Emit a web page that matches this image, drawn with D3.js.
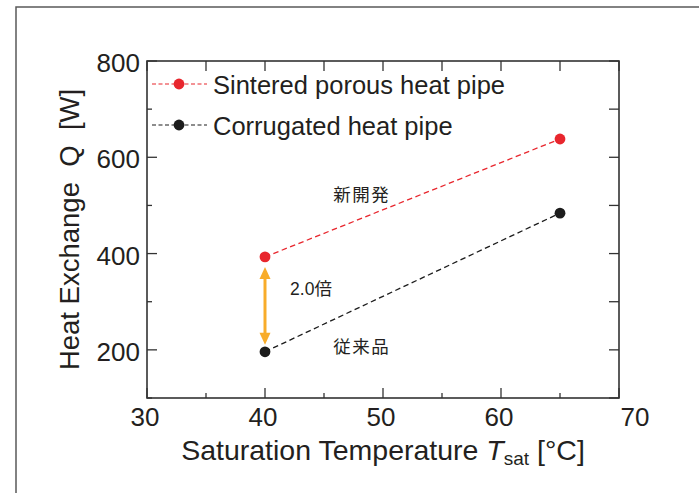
<!DOCTYPE html>
<html>
<head>
  <meta charset="utf-8">
  <title>Heat exchange vs saturation temperature</title>
  <script src="https://cdn.jsdelivr.net/npm/d3@7"></script>
  <style>
    body { margin: 0; background: #fff; }
    svg text { font-family: "Liberation Sans", Arial, sans-serif; fill: #231f20; }
    .cjk { font-family: "Liberation Sans", "Noto Sans CJK JP", sans-serif; }
  </style>
</head>
<body>
<script>
  // values
  var temps = [40, 65];
  var sintered = [393, 638];
  var corrugated = [196, 484];
  var seriesNames = ["Sintered porous heat pipe", "Corrugated heat pipe"];
  var seriesColors = ["#e8262d", "#1c1c1c"];
  var xTicks = [30, 40, 50, 60, 70];
  var yTicks = [200, 400, 600, 800];
  var notes = [
    {text: "新開発", x: 48.2, y: 509},
    {text: "2.0倍", x: 43.9, y: 314},
    {text: "従来品", x: 48.2, y: 194}
  ];

  var W = 699, H = 493;
  var pL = 147, pT = 61, pR = 619, pB = 398;

  var svg = d3.select("body").append("svg")
      .attr("width", W).attr("height", H);

  // outer frame (top and left edges visible)
  svg.append("path")
      .attr("d", "M16," + H + "V7H" + W)
      .attr("fill", "none").attr("stroke", "#5a5a5a").attr("stroke-width", 1.5);

  var x = d3.scaleLinear().domain([30, 70]).range([pL, pR]);
  var y = d3.scaleLinear().domain([100, 800]).range([pB, pT]);

  var minorX = d3.range(30, 71, 5), minorY = d3.range(100, 801, 100);

  // ticks, all pointing inward
  var tk = svg.append("g").attr("stroke", "#333").attr("stroke-width", 1.3);
  minorX.forEach(function (v) {
    var major = xTicks.indexOf(v) >= 0;
    tk.append("line").attr("x1", x(v)).attr("x2", x(v))
      .attr("y1", pB).attr("y2", pB - (major ? 10 : 5));
    tk.append("line").attr("x1", x(v)).attr("x2", x(v))
      .attr("y1", pT).attr("y2", pT + 10);
  });
  minorY.forEach(function (v) {
    var major = yTicks.indexOf(v) >= 0;
    tk.append("line").attr("y1", y(v)).attr("y2", y(v))
      .attr("x1", pL).attr("x2", pL + (major ? 10 : 5));
    tk.append("line").attr("y1", y(v)).attr("y2", y(v))
      .attr("x1", pR).attr("x2", pR - 10);
  });

  // plot box
  svg.append("rect")
      .attr("x", pL).attr("y", pT)
      .attr("width", pR - pL).attr("height", pB - pT)
      .attr("fill", "none").attr("stroke", "#333").attr("stroke-width", 1.6);

  // tick labels
  svg.append("g").selectAll("text").data(xTicks).join("text")
      .attr("x", function (d, i) { return x(d) + (i === xTicks.length - 1 ? 16 : -2); })
      .attr("y", 426)
      .attr("text-anchor", "middle")
      .attr("font-size", 26)
      .text(function (d) { return d; });

  svg.append("g").selectAll("text").data(yTicks).join("text")
      .attr("x", pL - 7)
      .attr("y", function (d) { return y(d) + 2; })
      .attr("dy", "0.35em")
      .attr("text-anchor", "end")
      .attr("font-size", 26)
      .text(function (d) { return d; });

  // axis titles
  var xt = svg.append("text")
      .attr("x", (pL + pR) / 2).attr("y", 460)
      .attr("text-anchor", "middle").attr("font-size", 28.5);
  xt.append("tspan").text("Saturation Temperature ");
  xt.append("tspan").attr("font-style", "italic").text("T");
  xt.append("tspan").attr("font-size", 19).attr("dy", 5).text("sat");
  xt.append("tspan").attr("dy", -5).text(" [°C]");

  svg.append("text")
      .attr("transform", "translate(79," + (pT + pB) / 2 + ") rotate(-90)")
      .attr("text-anchor", "middle")
      .attr("font-size", 27.5)
      .style("white-space", "pre")
      .text("Heat Exchange  Q  [W]");

  // series
  var series = [sintered, corrugated];
  var line = d3.line()
      .x(function (d, i) { return x(temps[i]); })
      .y(function (d) { return y(d); });

  series.forEach(function (s, k) {
    svg.append("path")
        .datum(s)
        .attr("d", line)
        .attr("fill", "none")
        .attr("stroke", seriesColors[k])
        .attr("stroke-width", 1.3)
        .attr("stroke-dasharray", "5.5,3.5");
    svg.append("g").selectAll("circle").data(s).join("circle")
        .attr("cx", function (d, i) { return x(temps[i]); })
        .attr("cy", function (d) { return y(d); })
        .attr("r", 5.4)
        .attr("fill", seriesColors[k]);
  });

  // legend
  seriesNames.forEach(function (name, k) {
    var ly = 84 + k * 41;
    svg.append("line")
        .attr("x1", 152).attr("x2", 207).attr("y1", ly).attr("y2", ly)
        .attr("stroke", seriesColors[k]).attr("stroke-width", 1.1)
        .attr("stroke-dasharray", "4,2.5");
    svg.append("circle")
        .attr("cx", 179).attr("cy", ly).attr("r", 5.4)
        .attr("fill", seriesColors[k]);
    svg.append("text")
        .attr("x", 213).attr("y", ly + 10)
        .attr("font-size", 25.5)
        .text(name);
  });

  // 2x arrow between the two points at 40 degC
  var ax = x(temps[0]);
  var ya = y(sintered[0]) + 10, yb = y(corrugated[0]) - 7;
  var orange = "#f8ac2a";
  svg.append("line")
      .attr("x1", ax).attr("x2", ax).attr("y1", ya + 8).attr("y2", yb - 8)
      .attr("stroke", orange).attr("stroke-width", 3);
  svg.append("path")
      .attr("d", "M" + ax + "," + ya + "l-5.5,12h11z")
      .attr("fill", orange);
  svg.append("path")
      .attr("d", "M" + ax + "," + yb + "l-5.5,-12h11z")
      .attr("fill", orange);

  // notes
  svg.append("g").selectAll("text").data(notes).join("text")
      .attr("class", "cjk")
      .attr("x", function (d) { return x(d.x); })
      .attr("y", function (d) { return y(d.y); })
      .attr("text-anchor", "middle")
      .attr("font-size", 17.5)
      .attr("letter-spacing", function (d) { return /\d/.test(d.text) ? 0 : 1.5; })
      .text(function (d) { return d.text; });
</script>
</body>
</html>
